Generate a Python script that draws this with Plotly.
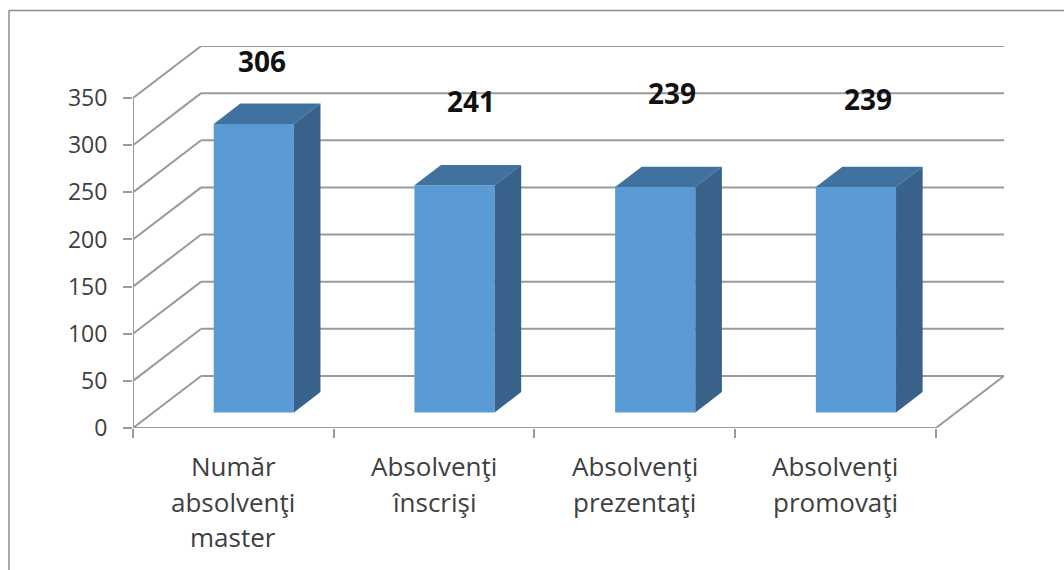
import plotly.graph_objects as go

categories = ['Număr<br>absolvenţi<br>master', 'Absolvenţi<br>înscrişi', 'Absolvenţi<br>prezentaţi', 'Absolvenţi<br>promovaţi']
values = [306, 241, 239, 239]
y_ticks = [0, 50, 100, 150, 200, 250, 300, 350]

# Figure geometry, pixels
WIDTH, HEIGHT = 1064, 570
LEFT, RIGHT, TOP, BOTTOM = 133, 1004, 46, 428
CAT_PX = 200.25
Y_PX = 0.9414
DEPTH_X_PX, DEPTH_Y_PX = 68, 52

# 3d depth expressed in axis units
depth_x = DEPTH_X_PX / CAT_PX
depth_y = DEPTH_Y_PX / Y_PX
bar_width = 80 / CAT_PX
# the bar starts at this fraction of the floor depth and ends at the second one
bar_near, bar_far = 0.3, 0.69

GRID = '#9a9a9a'
TEXT = '#404040'
FRONT = '#5B9BD5'
TOP_FACE = '#41719F'
SIDE_FACE = '#38628A'
FONT = 'Open Sans'

# hand placed data labels in the original: px shift from the top of each bar
label_shifts = [(8, 63), (16, 84), (17, 94), (12, 88)]

fig = go.Figure()


def grid_line(x0, y0, x1, y1):
    return dict(type='line', xref='x', yref='y', x0=x0, y0=y0, x1=x1, y1=y1, layer='below', line=dict(color=GRID, width=2))


def frame_line(x0, y0, x1, y1):
    return dict(type='line', xref='paper', yref='paper', x0=(x0 - LEFT) / (RIGHT - LEFT), x1=(x1 - LEFT) / (RIGHT - LEFT),
                y0=(BOTTOM - y0) / (BOTTOM - TOP), y1=(BOTTOM - y1) / (BOTTOM - TOP), layer='below', line=dict(color='#8c8c8c', width=1.5))


n = len(categories)
shapes = [frame_line(9, 10.5, 1064, 10.5), frame_line(9, 10.5, 9, 570)]
for t in y_ticks:
    # diagonal on the side wall, then the line along the back wall
    shapes.append(grid_line(0, t, depth_x, t + depth_y))
    shapes.append(grid_line(depth_x, t + depth_y, n + depth_x, t + depth_y))
# axes and the right edge of the floor
shapes.append(grid_line(0, 0, 0, y_ticks[-1]))
shapes.append(grid_line(0, 0, n, 0))
shapes.append(grid_line(n, 0, n + depth_x, depth_y))

lefts = [i + 0.5 - bar_width / 2 + bar_near * depth_x for i in range(n)]
bases = [bar_near * depth_y] * n
centers = [left + bar_width / 2 for left in lefts]

fig.add_trace(go.Bar(x=centers, y=values, base=bases, width=bar_width, marker=dict(color=FRONT, line=dict(width=0)), showlegend=False))

dx = (bar_far - bar_near) * depth_x
dy = (bar_far - bar_near) * depth_y
for left, base, v in zip(lefts, bases, values):
    right = left + bar_width
    top = base + v
    # top face
    fig.add_trace(go.Scatter(x=[left, right, right + dx, left + dx, left], y=[top, top, top + dy, top + dy, top], fill='toself',
                             mode='none', fillcolor=TOP_FACE, showlegend=False, hoverinfo='skip'))
    # side face
    fig.add_trace(go.Scatter(x=[right, right + dx, right + dx, right, right], y=[base, base + dy, top + dy, top, base], fill='toself',
                             mode='none', fillcolor=SIDE_FACE, showlegend=False, hoverinfo='skip'))

annotations = []
for c, v, base, (sx, sy) in zip(centers, values, bases, label_shifts):
    annotations.append(dict(x=c, y=base + v, xref='x', yref='y', text=f'<b>{v}</b>', showarrow=False, xshift=sx, yshift=sy,
                            font=dict(family=FONT, size=28, color='#111111')))
# category labels, one annotation per line because the line spacing is wider than a tick label allows
for i, label in enumerate(categories):
    for j, line in enumerate(label.split('<br>')):
        annotations.append(dict(x=i + 0.5, y=0, xref='x', yref='y', text=line, showarrow=False, yshift=-38 - 35.5 * j,
                                font=dict(family=FONT, size=26, color=TEXT)))

fig.update_layout(
    width=WIDTH,
    height=HEIGHT,
    autosize=False,
    margin=dict(l=LEFT, r=WIDTH - RIGHT, t=TOP, b=HEIGHT - BOTTOM, pad=0),
    paper_bgcolor='white',
    plot_bgcolor='white',
    font=dict(family=FONT, size=23, color=TEXT),
    showlegend=False,
    shapes=shapes,
    annotations=annotations,
    xaxis=dict(range=[0, n + depth_x], tickvals=list(range(n + 1)), showticklabels=False, ticks='outside', ticklen=9, tickwidth=2,
               tickcolor=GRID, showgrid=False, zeroline=False, showline=False),
    yaxis=dict(range=[0, y_ticks[-1] + depth_y], tickvals=y_ticks, ticks='outside', ticklen=9, tickwidth=2, tickcolor=GRID,
               ticklabelstandoff=11, showgrid=False, zeroline=False, showline=False),
)

# the page's default body margin would push the figure 8px down and right
fig.write_html("out.html", config=dict(displayModeBar=False), post_script="document.body.style.margin = '0';")
